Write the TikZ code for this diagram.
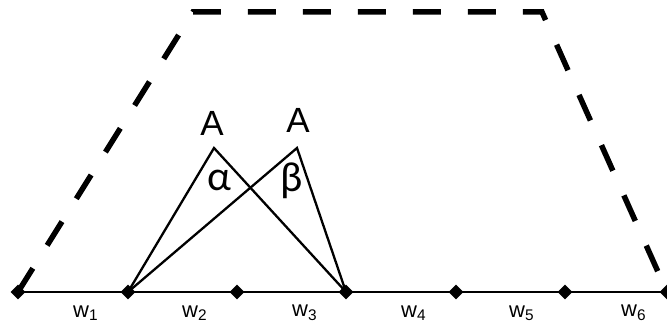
\documentclass[tikz,border=0pt]{standalone}
\usepackage{fontspec}
\setmainfont{Liberation Sans}
\newfontfamily\greekfont{Carlito}
\usetikzlibrary{shapes.geometric}
\tikzset{
  dmark/.style={diamond, fill=black, inner sep=0pt, minimum width=15pt, minimum height=15pt},
  wlabel/.style={anchor=west, inner sep=0pt, font=\fontsize{22}{24}\selectfont},
  apexlabel/.style={inner sep=0pt, font=\fontsize{35}{38}\selectfont},
  anglelabel/.style={inner sep=0pt, font=\greekfont\fontsize{42}{44}\selectfont},
  trapez/.style={line width=5.5pt, dash pattern=on 28pt off 27pt},
  tri/.style={line width=2.3pt, line join=miter},
}
\begin{document}
\begin{tikzpicture}[x=1pt,y=-1pt]
\useasboundingbox (0,0) rectangle (667,326);
% dashed outline
\coordinate (t0) at (18,292);
\coordinate (t1) at (193,12);
\coordinate (t2) at (542,12);
\coordinate (t3) at (667,292);
\draw[trapez] (t0) -- (t1) -- (t2) -- (t3);
% baseline
\coordinate (b0) at (18,292);
\coordinate (b6) at (667,292);
\draw[line width=1.6pt] (b0) -- (b6);
% triangles
\coordinate (p1) at (128,292);
\coordinate (p3) at (346,292);
\coordinate (a1) at (214,148);
\coordinate (a2) at (297,148);
\draw[tri] (p1) -- (a1) -- (p3);
\draw[tri] (p1) -- (a2) -- (p3);
% markers
\foreach \i/\x in {0/18,1/128,2/237,3/346,4/456,5/565,6/667}
  \node[dmark] (m\i) at (\x,292) {};
% labels
\node[wlabel] (w1) at (73,313) {w\textsubscript{1}};
\node[wlabel] (w2) at (182,313) {w\textsubscript{2}};
\node[wlabel] (w3) at (292,313) {w\textsubscript{3}};
\node[wlabel] (w4) at (401,313) {w\textsubscript{4}};
\node[wlabel] (w5) at (509,313) {w\textsubscript{5}};
\node[wlabel] (w6) at (621,313) {w\textsubscript{6}};
\node[apexlabel] (A1) at (212,123) {A};
\node[apexlabel] (A2) at (298,120) {A};
\node[anglelabel] (al) at (219,180) {α};
\node[anglelabel] (be) at (292,181) {β};
\end{tikzpicture}
\end{document}
